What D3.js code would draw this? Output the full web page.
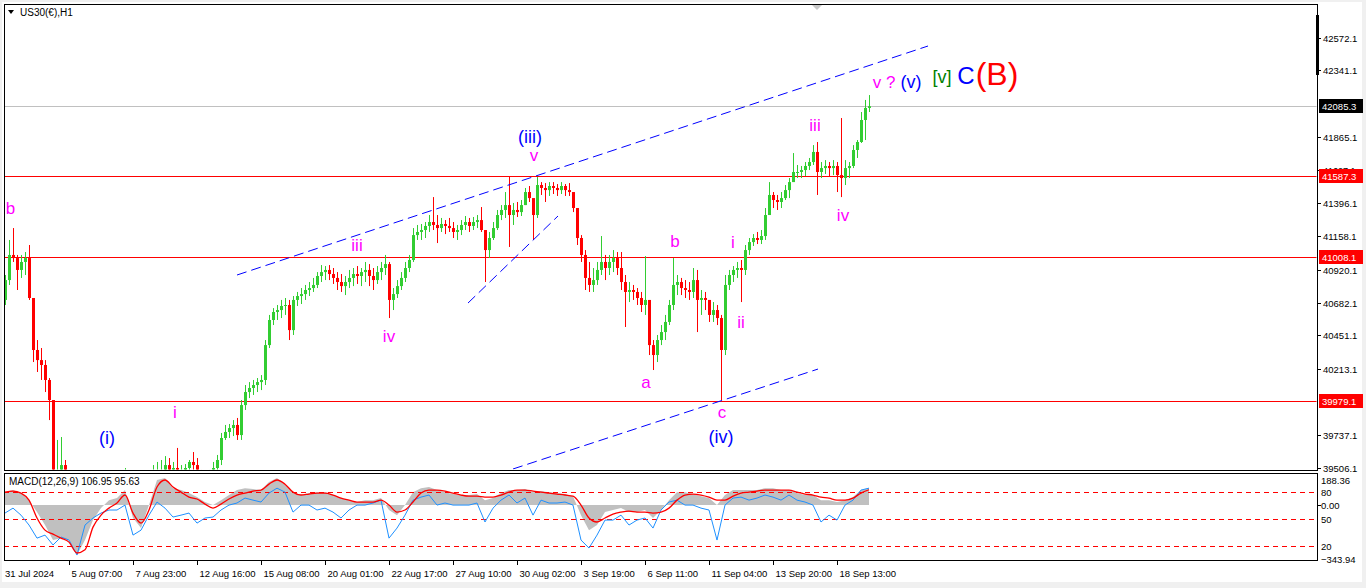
<!DOCTYPE html>
<html><head><meta charset="utf-8">
<script src="https://cdn.jsdelivr.net/npm/d3@7"></script>
<style>
html,body{margin:0;padding:0;background:#f0f0f0;overflow:hidden;}
svg{display:block;font-family:"Liberation Sans",Arial,sans-serif;}
</style></head><body>
<svg id="c" width="1366" height="588"></svg>
<script>
// ---------- DATA ----------
const symbolTitle = "US30(€),H1";
const firstOpen = 40703;
const highs = [
40881,41131,41216,41024,41024,41045,41095,40703,40417,40360,
40274,40146,39989,39704,39725,39561,39418,39204,38990,38847,
38847,38954,38990,39061,39133,39097,39168,39204,39276,39347,
39504,39311,39133,39061,39133,39276,39383,39525,39547,39561,
39589,39575,39547,39647,39525,39532,39561,39618,39575,39490,
39418,39490,39547,39597,39754,39811,39818,39846,39861,39989,
40096,40117,40132,40146,40167,40417,40596,40645,40667,40703,
40717,40703,40731,40760,40788,40810,40831,40860,40902,40952,
40945,40952,40931,40902,40888,40874,40917,40931,40945,40931,
40974,40959,40931,40945,40974,41024,40974,40788,40845,40902,
40974,41024,41216,41238,41245,41259,41309,41437,41309,41288,
41273,41288,41259,41238,41273,41302,41288,41295,41309,41366,
41202,41188,41259,41345,41380,41473,41587,41395,41402,41416,
41502,41516,41416,41580,41544,41537,41544,41544,41530,41544,
41530,41537,41452,41345,41166,41059,40974,40931,40974,41159,
41024,41024,41059,41045,41045,40881,40831,40810,40788,40760,
41016,40703,40417,40453,40524,40596,40703,41002,40881,40860,
40845,40831,40931,40917,40774,40760,40703,40688,40667,40596,
40881,40917,40945,40974,40988,41095,41145,41173,41188,41202,
41359,41544,41473,41452,41473,41523,41573,41751,41666,41659,
41687,41716,41808,41830,41687,41701,41687,41701,41687,42001,
41701,41687,41808,41844,42044,42130,42165];
const lows = [
40667,40810,40974,40774,40860,40881,40703,40260,40189,40132,
40046,39846,39418,39347,39347,39276,39061,38776,38562,38491,
38562,38633,38740,38812,38883,38847,38919,38954,39026,39061,
39133,38990,38847,38812,38847,38990,39133,39276,39347,39383,
39418,39383,39404,39418,39383,39404,39418,39447,39383,39276,
39204,39276,39383,39454,39525,39704,39718,39732,39704,39704,
39918,40003,40025,40046,40060,40096,40360,40524,40560,40574,
40596,40417,40453,40660,40674,40703,40731,40760,40788,40831,
40845,40845,40817,40774,40760,40738,40788,40802,40817,40802,
40831,40802,40774,40817,40845,40881,40574,40631,40717,40774,
40831,40902,40974,41131,41131,41145,41188,41202,41109,41188,
41173,41188,41145,41131,41166,41202,41188,41202,41216,41188,
40831,41002,41131,41202,41273,41288,41081,41238,41295,41302,
41380,41402,41131,41288,41452,41402,41445,41459,41445,41459,
41445,41445,41330,41095,40974,40774,40760,40760,40810,40881,
40845,40881,40902,40881,40774,40510,40688,40703,40667,40617,
40596,40310,40203,40260,40381,40417,40524,40631,40738,40738,
40717,40703,40717,40474,40596,40631,40546,40546,40524,39989,
40310,40774,40831,40860,40688,40881,41024,41088,41102,41102,
41131,41309,41359,41345,41359,41416,41430,41559,41573,41573,
41587,41630,41666,41452,41573,41602,41587,41594,41473,41437,
41523,41573,41644,41716,41823,41844,42044];
const closes = [
40845,41024,41002,40917,40974,41002,40717,40346,40274,40239,
40132,39989,39490,39490,39525,39347,39133,38847,38705,38633,
38740,38847,38919,38990,38954,39026,39061,39133,39168,39240,
39276,39061,38954,38919,39061,39204,39347,39418,39475,39490,
39525,39490,39504,39475,39490,39504,39547,39525,39454,39347,
39311,39454,39504,39561,39718,39761,39789,39811,39739,39953,
40046,40075,40096,40117,40132,40381,40560,40617,40631,40660,
40667,40488,40703,40731,40745,40774,40788,40810,40874,40902,
40917,40888,40860,40831,40802,40831,40860,40888,40874,40902,
40917,40874,40845,40902,40931,40959,40703,40745,40802,40860,
40931,40988,41166,41188,41202,41231,41259,41238,41216,41245,
41231,41216,41188,41202,41238,41259,41231,41259,41273,41202,
41059,41145,41216,41309,41345,41380,41309,41345,41330,41380,
41473,41430,41309,41523,41502,41487,41516,41502,41487,41516,
41487,41473,41359,41145,41024,40860,40810,40845,40917,40974,
40931,40974,41002,40931,40831,40760,40774,40760,40717,40667,
40703,40381,40310,40417,40474,40546,40667,40810,40831,40788,
40774,40760,40845,40703,40717,40703,40596,40631,40574,40346,
40810,40881,40917,40931,40917,41059,41116,41145,41131,41159,
41309,41452,41416,41402,41430,41487,41544,41616,41616,41630,
41659,41687,41759,41616,41644,41659,41644,41659,41594,41573,
41644,41659,41773,41830,41987,42073,42085.3];

// MACD values, one every macdStep bars
const macdStep = 2;
const macdMain = [
81,94,75,31,-44,-125,-219,-207,-219,-313,
-219,-94,-19,31,44,94,-81,-144,0,157,
169,106,94,75,50,19,0,31,63,94,
106,100,94,144,169,125,81,63,75,81,
81,63,44,31,19,31,31,44,-31,-63,
0,81,106,113,94,81,69,63,63,69,
31,44,75,94,94,100,81,88,81,75,
69,56,-63,-157,-125,-44,-31,-19,-44,-44,
-31,-81,-31,31,81,81,69,56,44,0,
63,94,94,94,94,106,106,94,94,75,
63,63,31,31,19,31,50,94,107];
const macdSignal = [
81,88,75,31,-81,-157,-182,-207,-232,-300,
-280,-138,-63,-19,13,63,-50,-113,-31,113,
157,113,81,50,38,6,-19,6,38,63,
75,88,94,131,157,131,81,63,69,75,
75,63,44,31,19,19,19,31,0,-44,
-31,19,75,94,94,88,75,63,56,56,
50,50,63,81,94,94,88,81,75,69,
63,56,0,-81,-106,-81,-56,-44,-38,-44,
-44,-50,-44,-19,31,63,69,63,50,31,
31,56,75,81,88,94,94,94,94,81,
69,63,50,44,31,31,44,75,96];
const macdBlue = [
-50,-19,-63,-125,-207,-188,-250,-200,-219,-313,
-125,-81,-50,-31,-31,0,-188,-157,-63,19,
-19,-75,-63,-50,-113,-81,-75,-31,0,13,
44,31,19,75,106,81,-44,0,0,-31,
-19,-44,-81,-31,0,0,13,31,-207,-144,
-63,31,50,63,0,13,0,0,0,13,
-106,-19,31,63,13,44,-63,31,13,13,
19,0,-219,-269,-188,-94,-94,-63,-125,-94,
-81,-144,-31,19,31,0,0,-19,-31,-219,
0,44,50,31,44,63,50,31,63,31,
19,0,-106,-63,-94,0,31,94,106];
const macdTitle = "MACD(12,26,9) 106.95 95.63";
const macdLevels = [80, -87, -256];
const macdLevelLabels = ["80", "50", "20"];
const macdScaleMax = 188.36, macdScaleMin = -343.94;

const timeTickBars = [0,16,32,48,64,80,96,112,128,144,160,176,192,208];
const timeLabels = ["31 Jul 2024","5 Aug 07:00","7 Aug 23:00","12 Aug 16:00","15 Aug 08:00","20 Aug 01:00","22 Aug 17:00","27 Aug 10:00","30 Aug 02:00","3 Sep 19:00","6 Sep 11:00","11 Sep 04:00","13 Sep 20:00","18 Sep 13:00"];

const priceTicks = [42572.1,42341.1,41865.1,41627.1,41396.1,41158.1,40920.1,40682.1,40451.1,40213.1,39737.1,39506.1];
const levelPrices = [41587.3, 41008.1, 39979.1];
const bidPrice = 42085.3;

// trend lines: [bar1, price1, bar2, price2]
const trendLines = [
  [58, 40881, 230.75, 42515],
  [127, 39497, 203.25, 40210],
  [115.75, 40681, 138.25, 41302]
];

// wave labels: text, colour, bar, price, size
const waveLabels = [
  ["b","#ff00ff",1.4,41359,17],
  ["(i)","#0000ff",25.5,39718,18],
  ["i","#ff00ff",42.5,39903,17],
  ["iii","#ff00ff",88,41095,17],
  ["iv","#ff00ff",96,40446,17],
  ["(iii)","#0000ff",131.25,41866,18],
  ["v","#ff00ff",132.25,41737,17],
  ["a","#ff00ff",160.25,40117,17],
  ["b","#ff00ff",167.5,41124,17],
  ["c","#ff00ff",179.25,39903,17],
  ["(iv)","#0000ff",179,39725,18],
  ["i","#ff00ff",182,41116,17],
  ["ii","#ff00ff",184,40546,17],
  ["iii","#ff00ff",202.5,41951,17],
  ["iv","#ff00ff",209.5,41309,17],
  ["v ?","#ff00ff",219.75,42258,17],
  ["(v)","#0000ff",226.5,42258,18],
  ["[v]","#008000",234.25,42294,18],
  ["C","#0000ff",240.25,42301,24],
  ["(B)","#ff0000",248,42315,32]
];

// ---------- LAYOUT ----------
const W = 1366, H = 588;
const paneL = 4, paneR = 1317, mainT = 4, mainB = 470, macdT = 473, macdB = 560;
const GREEN = "#32cd32", RED = "#ff0000";

const svg = d3.select("#c");
svg.append("rect").attr("width", W).attr("height", H).attr("fill", "#f0f0f0");
svg.append("rect").attr("x", 2).attr("y", 2).attr("width", 1360).attr("height", 580).attr("fill", "#fff");

const defs = svg.append("defs");
defs.append("clipPath").attr("id", "clipMain").append("rect")
  .attr("x", paneL + 0.5).attr("y", mainT + 0.5).attr("width", paneR - paneL - 1).attr("height", mainB - mainT - 1);
defs.append("clipPath").attr("id", "clipMacd").append("rect")
  .attr("x", paneL + 0.5).attr("y", macdT + 0.5).attr("width", paneR - paneL - 1).attr("height", macdB - macdT - 1);

const x = d3.scaleLinear().domain([0, closes.length - 1]).range([5, 869]);
const y = d3.scaleLinear().domain([39506.1, 42572.1]).range([467.7, 38]);
const m = d3.scaleLinear().domain([macdScaleMin, macdScaleMax]).range([macdB, 475]);

// ---------- MAIN PANE ----------
const gMain = svg.append("g").attr("clip-path", "url(#clipMain)");

gMain.append("line").attr("x1", paneL).attr("x2", paneR)
  .attr("y1", Math.round(y(bidPrice)) + 0.5).attr("y2", Math.round(y(bidPrice)) + 0.5)
  .attr("stroke", "#c0c0c0");
gMain.selectAll("line.lvl").data(levelPrices).join("line").attr("class", "lvl")
  .attr("x1", paneL).attr("x2", paneR)
  .attr("y1", d => Math.round(y(d)) + 0.5).attr("y2", d => Math.round(y(d)) + 0.5)
  .attr("stroke", RED).attr("stroke-width", 1.2);

const bars = closes.map((c, i) => ({
  i, o: i === 0 ? firstOpen : closes[i - 1], h: highs[i], l: lows[i], c
}));
const gBars = gMain.append("g");
gBars.selectAll("line.wick").data(bars).join("line").attr("class", "wick")
  .attr("x1", d => Math.round(x(d.i)) + 0.5).attr("x2", d => Math.round(x(d.i)) + 0.5)
  .attr("y1", d => y(d.h)).attr("y2", d => y(d.l))
  .attr("stroke", d => d.c >= d.o ? GREEN : RED).attr("stroke-width", 1);
gBars.selectAll("rect.body").data(bars).join("rect").attr("class", "body")
  .attr("x", d => Math.round(x(d.i)) - 1).attr("width", 3)
  .attr("y", d => y(Math.max(d.o, d.c)))
  .attr("height", d => Math.max(1, Math.abs(y(d.o) - y(d.c))))
  .attr("fill", d => d.c >= d.o ? GREEN : RED);

gMain.selectAll("line.tl").data(trendLines).join("line").attr("class", "tl")
  .attr("x1", d => x(d[0])).attr("y1", d => y(d[1]))
  .attr("x2", d => x(d[2])).attr("y2", d => y(d[3]))
  .attr("stroke", "#0000ff").attr("stroke-width", 1).attr("stroke-dasharray", "10,5");

svg.append("g").selectAll("text").data(waveLabels).join("text")
  .attr("x", d => x(d[2])).attr("y", d => y(d[3]) + d[4] * 0.33)
  .attr("text-anchor", "middle").attr("fill", d => d[1])
  .attr("font-size", d => d[4] + "px").text(d => d[0]);

svg.append("path").attr("d", "M8,10 L14,10 L11,14 Z").attr("fill", "#000");
svg.append("text").attr("x", 20).attr("y", 16).attr("font-size", "10px").attr("fill", "#000").text(symbolTitle);
svg.append("path").attr("d", "M812,5 L822,5 L817,10 Z").attr("fill", "#c8c8c8");

// ---------- MACD PANE ----------
const gM = svg.append("g").attr("clip-path", "url(#clipMacd)");
const mx = j => x(j * macdStep);
gM.append("path").datum(macdMain)
  .attr("d", d3.area().x((d, j) => mx(j)).y0(m(0)).y1(d => m(d)))
  .attr("fill", "#c0c0c0");
gM.selectAll("line.ml").data(macdLevels).join("line").attr("class", "ml")
  .attr("x1", paneL).attr("x2", paneR)
  .attr("y1", d => Math.round(m(d)) + 0.5).attr("y2", d => Math.round(m(d)) + 0.5)
  .attr("stroke", RED).attr("stroke-dasharray", "5,4");
gM.append("path").datum(macdBlue)
  .attr("d", d3.line().x((d, j) => mx(j)).y(d => m(d)))
  .attr("fill", "none").attr("stroke", "#1e90ff").attr("stroke-width", 1);
gM.append("path").datum(macdSignal)
  .attr("d", d3.line().x((d, j) => mx(j)).y(d => m(d)).curve(d3.curveMonotoneX))
  .attr("fill", "none").attr("stroke", RED).attr("stroke-width", 1.3);
svg.append("text").attr("x", 9).attr("y", 485).attr("font-size", "10px").attr("fill", "#000").text(macdTitle);

// ---------- FRAMES ----------
const frame = svg.append("g").attr("fill", "none").attr("stroke", "#000");
frame.append("rect").attr("x", paneL + 0.5).attr("y", mainT + 0.5).attr("width", paneR - paneL).attr("height", mainB - mainT);
frame.append("rect").attr("x", paneL + 0.5).attr("y", macdT + 0.5).attr("width", paneR - paneL).attr("height", macdB - macdT);
svg.append("rect").attr("x", 1316).attr("y", 15).attr("width", 3).attr("height", 60).attr("fill", "#000");

// ---------- PRICE AXIS ----------
const axisG = svg.append("g").attr("font-size", "9.5px").attr("fill", "#000");
const boxPrices = levelPrices.concat([bidPrice]);
// ticks whose label would sit under a price box are shown only partly (clipped above the box)
defs.append("clipPath").attr("id", "clipTickLbl").append("rect")
  .attr("x", 1319).attr("y", 0).attr("width", 47).attr("height", Math.round(y(41587.3)) - 7);
priceTicks.forEach(p => {
  const yy = Math.round(y(p)) + 0.5;
  axisG.append("line").attr("x1", paneR).attr("x2", paneR + 4).attr("y1", yy).attr("y2", yy).attr("stroke", "#000");
  const hidden = boxPrices.some(b => Math.abs(y(b) - y(p)) < 12);
  const t = axisG.append("text").attr("x", 1323).attr("y", yy + 3.5).text(d3.format(".1f")(p));
  if (hidden) t.attr("clip-path", "url(#clipTickLbl)").attr("font-size", "9px");
});
function priceBox(p, bg) {
  const yy = Math.round(y(p));
  axisG.append("rect").attr("x", 1319).attr("y", yy - 7).attr("width", 44).attr("height", 14).attr("fill", bg);
  axisG.append("text").attr("x", 1322).attr("y", yy + 3.5).attr("fill", "#fff").text(d3.format(".1f")(p));
}
levelPrices.forEach(p => priceBox(p, RED));
priceBox(bidPrice, "#000");

const mLabels = [[macdScaleMax, d3.format(".2f")(macdScaleMax)], [0, "0.00"], [macdScaleMin, d3.format(".2f")(macdScaleMin)]];
mLabels.forEach(([v, t], k) => {
  const yy = k === 0 ? 480 : (k === 2 ? 559 : m(v));
  axisG.append("text").attr("x", 1321).attr("y", yy + 3.5).text(t);
});
axisG.append("line").attr("x1", paneR).attr("x2", paneR + 4).attr("y1", Math.round(m(0)) + 0.5).attr("y2", Math.round(m(0)) + 0.5).attr("stroke", "#000");
macdLevels.forEach((v, k) => {
  axisG.append("text").attr("x", 1321).attr("y", Math.round(m(v)) + 4).text(macdLevelLabels[k]);
});

// ---------- TIME AXIS ----------
const tG = svg.append("g").attr("font-size", "9.5px").attr("fill", "#000");
timeTickBars.forEach((b, k) => {
  const xx = Math.round(x(b)) + 0.5;
  if (k > 0) tG.append("line").attr("x1", xx).attr("x2", xx).attr("y1", macdB).attr("y2", macdB + 5).attr("stroke", "#000");
  tG.append("text").attr("x", k === 0 ? 5 : xx + 2).attr("y", 577).text(timeLabels[k]);
});
</script>
</body></html>
